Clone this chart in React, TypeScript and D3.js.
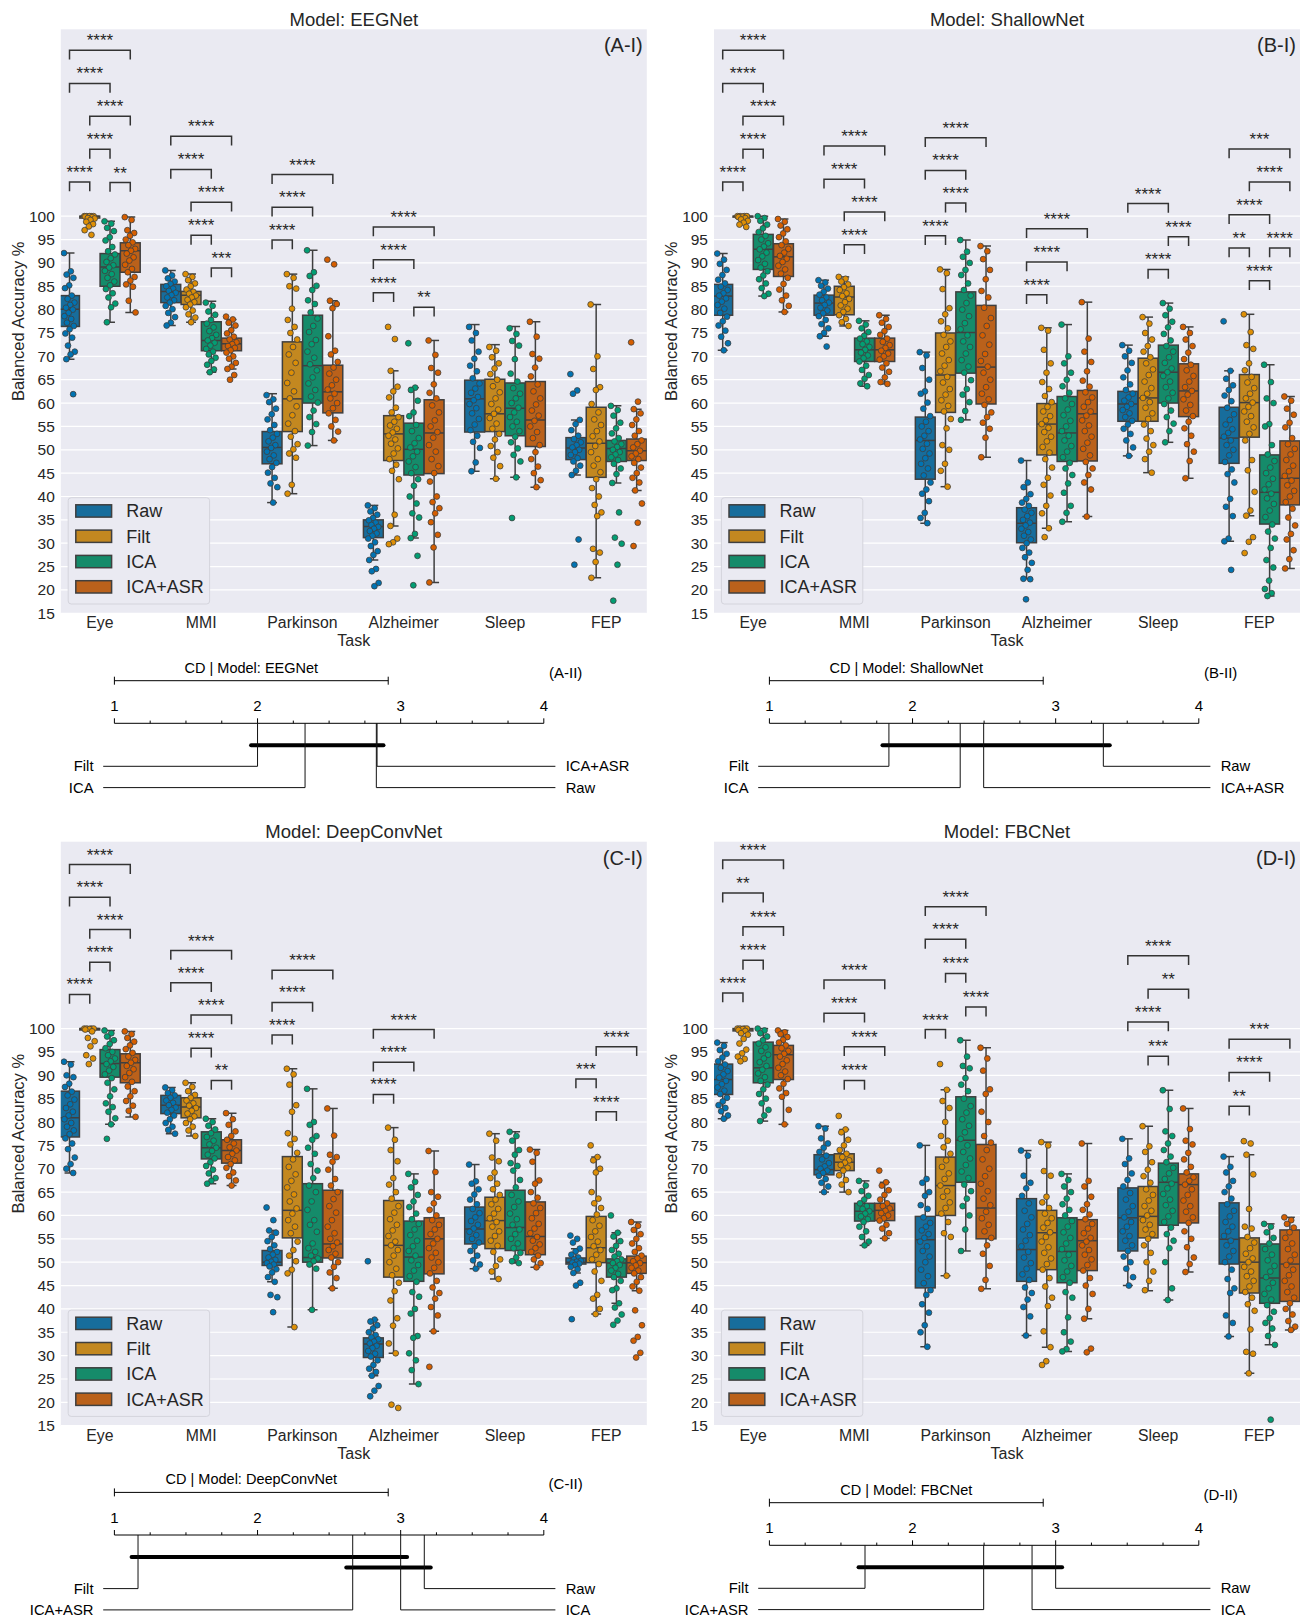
import React from 'react';
import * as d3 from 'd3';

const tasks = ['Eye', 'MMI', 'Parkinson', 'Alzheimer', 'Sleep', 'FEP'];
const pipelines = ['Raw', 'Filt', 'ICA', 'ICA+ASR'];
const palette = ['#0173B2', '#DE8F05', '#029E73', '#D55E00'];
const yTickValues = d3.range(15, 101, 5);

// [whisker low, q1, median, q3, whisker high] per task, per pipeline
const eegnetStats = [
  [[69.4, 76.4, 80.1, 83.0, 92.1], [99.4, 99.6, 100, 100, 100], [77.3, 85.0, 89.1, 92.0, 98.9], [79.4, 88.0, 92.6, 94.3, 99.8]],
  [[76.6, 81.5, 83.9, 85.4, 88.4], [77.3, 81.1, 83.1, 83.9, 87.6], [66.6, 71.2, 73.4, 77.4, 81.8], [67.3, 71.2, 72.7, 73.9, 77.9]],
  [[38.7, 47.0, 50.5, 53.9, 62.0], [40.6, 53.9, 60.9, 73.1, 87.6], [50.9, 60.0, 68.0, 78.8, 92.7], [52.0, 57.9, 62.4, 68.1, 81.9]],
  [[26.4, 31.2, 33.6, 35.0, 38.1], [33.7, 47.7, 53.4, 57.3, 66.9], [31.1, 44.6, 50.1, 55.7, 63.3], [21.6, 44.9, 53.6, 60.7, 73.4]],
  [[45.4, 53.8, 60.9, 64.9, 76.8], [43.8, 53.9, 57.7, 65.1, 72.5], [44.1, 53.0, 58.9, 64.3, 76.4], [42.0, 50.7, 56.4, 64.6, 77.4]],
  [[44.6, 47.9, 50.4, 52.6, 56.4], [22.6, 44.1, 51.4, 59.1, 81.1], [42.9, 47.5, 50.3, 52.0, 59.4], [41.3, 47.7, 49.8, 52.3, 58.7]],
];
const eegnetPoints = [
  [
    [92.1, 88.2, 87.5, 86.8, 85.2, 84.6, 83.0, 82.3, 81.5, 81.0, 80.4, 80.0, 79.3, 78.6, 78.0, 77.2, 76.5, 75.8, 74.9, 74.0, 72.3, 71.0, 70.4, 69.4, 61.9],
    [100, 100, 100, 100, 100, 99.9, 99.8, 99.6, 99.5, 99.2, 98.8, 98.3, 97.8, 97.0, 96.0],
    [98.9, 98.4, 97.5, 96.8, 95.5, 94.8, 93.4, 92.5, 91.8, 91.0, 90.2, 89.5, 89.0, 88.3, 87.6, 86.8, 86.0, 85.2, 84.4, 83.5, 82.6, 81.3, 80.5, 77.3],
    [99.8, 99.2, 97.0, 96.4, 95.8, 95.0, 94.4, 93.8, 93.0, 92.6, 92.0, 91.2, 90.5, 89.6, 88.7, 88.0, 87.0, 86.2, 85.4, 84.9, 81.9, 79.4],
  ],
  [
    [88.4, 87.3, 86.7, 86.0, 85.5, 85.0, 84.5, 84.0, 83.6, 83.1, 82.6, 82.0, 81.5, 80.8, 80.1, 79.3, 78.4, 77.2, 76.6],
    [87.6, 87.0, 86.3, 85.6, 85.0, 84.3, 83.8, 83.4, 83.0, 82.6, 82.1, 81.6, 81.1, 80.5, 79.8, 79.0, 78.3, 77.3],
    [81.5, 80.8, 79.6, 78.9, 77.8, 77.0, 76.2, 75.4, 74.6, 73.9, 73.4, 72.9, 72.3, 71.6, 71.0, 70.4, 69.7, 69.0, 68.2, 67.2, 66.6],
    [78.5, 77.9, 77.2, 76.6, 75.6, 74.9, 74.2, 73.6, 73.0, 72.6, 72.2, 71.8, 71.3, 70.8, 70.0, 69.5, 68.6, 67.8, 67.3, 66.0, 65.0],
  ],
  [
    [61.7, 60.8, 60.2, 58.8, 57.6, 56.5, 55.3, 54.2, 53.4, 52.6, 51.8, 51.0, 50.4, 49.6, 48.8, 48.0, 47.2, 46.3, 45.1, 44.0, 42.8, 42.0, 38.7],
    [87.6, 86.8, 85.0, 84.5, 80.2, 77.8, 76.3, 75.0, 73.6, 72.0, 70.4, 68.6, 66.5, 64.3, 62.5, 61.0, 59.3, 57.4, 55.6, 54.0, 52.8, 51.2, 50.1, 49.2, 48.3, 42.5, 40.6],
    [92.7, 88.0, 87.2, 85.1, 84.2, 82.0, 81.2, 79.4, 78.1, 76.5, 75.2, 73.5, 72.6, 71.0, 69.7, 68.3, 67.0, 65.5, 64.2, 62.8, 61.4, 60.1, 58.4, 57.0, 55.5, 53.8, 50.9],
    [90.7, 89.7, 81.9, 81.2, 80.3, 74.3, 71.2, 70.4, 68.8, 67.6, 66.3, 65.0, 63.8, 62.9, 62.0, 61.0, 60.0, 58.9, 57.8, 56.4, 55.0, 53.9, 52.0],
  ],
  [
    [38.1, 37.5, 36.8, 36.1, 35.4, 34.9, 34.4, 33.9, 33.5, 33.1, 32.6, 32.1, 31.6, 31.0, 30.2, 29.4, 28.3, 27.5, 26.4, 24.5, 24.0, 21.5, 20.8],
    [76.3, 73.7, 66.9, 63.5, 62.5, 61.2, 59.0, 58.0, 57.0, 56.0, 55.2, 54.5, 53.7, 53.0, 52.2, 51.3, 50.3, 49.2, 48.0, 46.8, 45.5, 43.7, 36.1, 33.7, 31.0, 30.2, 29.8],
    [72.8, 63.3, 62.8, 60.5, 58.0, 57.2, 55.3, 54.0, 52.5, 51.4, 50.5, 49.6, 48.6, 47.5, 46.3, 45.0, 43.7, 42.3, 40.0, 38.5, 36.4, 35.5, 32.0, 31.1, 27.3, 21.0],
    [73.4, 70.3, 67.5, 66.5, 64.0, 62.2, 61.0, 59.5, 58.0, 56.3, 55.0, 53.8, 52.6, 51.0, 49.6, 48.0, 46.5, 45.0, 43.2, 40.0, 38.8, 37.5, 36.4, 34.5, 31.8, 29.1, 21.6],
  ],
  [
    [76.3, 75.0, 73.4, 71.0, 69.5, 68.0, 66.8, 65.3, 64.2, 63.1, 62.2, 61.3, 60.6, 59.8, 58.9, 57.8, 56.6, 55.4, 54.2, 53.0, 51.7, 50.4, 47.3, 45.4],
    [72.0, 71.2, 69.8, 68.5, 67.4, 66.2, 65.0, 63.6, 62.3, 61.0, 59.8, 58.6, 57.7, 56.8, 55.6, 54.5, 53.4, 52.2, 50.8, 49.5, 48.3, 46.5, 43.8],
    [76.0, 74.8, 73.3, 72.3, 69.4, 66.3, 64.6, 63.2, 62.0, 61.0, 60.0, 59.0, 58.0, 57.0, 56.0, 55.0, 54.0, 52.8, 51.6, 50.3, 48.9, 47.5, 44.1, 35.4],
    [77.4, 74.2, 70.5, 69.5, 67.6, 65.7, 64.0, 62.5, 61.0, 59.7, 58.4, 57.3, 56.2, 55.0, 53.8, 52.5, 51.0, 49.5, 48.0, 46.4, 45.0, 43.5, 42.0],
  ],
  [
    [66.2, 62.7, 62.0, 56.4, 55.5, 54.2, 53.0, 52.3, 51.6, 51.0, 50.5, 50.0, 49.5, 48.9, 48.2, 47.5, 46.6, 45.5, 44.6, 30.8, 25.4],
    [81.1, 70.0, 67.3, 63.4, 62.8, 59.8, 58.0, 56.5, 55.3, 54.0, 52.9, 51.8, 50.8, 49.5, 48.0, 46.6, 45.2, 43.7, 41.8, 40.0, 38.2, 36.6, 35.8, 28.8, 28.0, 26.0, 22.6],
    [59.4, 58.5, 57.3, 55.8, 54.6, 53.5, 52.5, 51.8, 51.2, 50.6, 50.0, 49.5, 49.0, 48.4, 47.8, 47.0, 46.0, 44.8, 42.9, 36.6, 31.2, 29.9, 25.4, 17.7],
    [73.0, 60.3, 58.7, 57.8, 56.5, 55.3, 54.0, 53.0, 52.0, 51.2, 50.5, 49.8, 49.2, 48.6, 48.0, 47.2, 46.2, 45.0, 44.0, 43.0, 41.3, 38.5, 34.4, 29.4],
  ],
];

const shallownetStats = [
  [[71.3, 78.8, 82.9, 85.4, 92.0], [99.6, 99.8, 100, 100, 100], [82.9, 88.6, 92.9, 96.1, 100], [79.5, 87.1, 91.3, 94.1, 99.4]],
  [[74.3, 78.8, 81.4, 83.1, 86.3], [76.5, 78.9, 82.7, 85.0, 87.0], [63.6, 68.9, 71.4, 73.9, 77.6], [64.1, 68.9, 71.4, 73.9, 78.8]],
  [[34.3, 43.7, 52.0, 57.0, 70.9], [42.1, 58.0, 66.0, 75.0, 88.6], [56.4, 66.4, 75.1, 83.8, 94.9], [48.4, 59.8, 67.7, 80.9, 93.6]],
  [[22.4, 30.1, 34.3, 37.6, 47.7], [33.2, 48.9, 55.5, 59.9, 76.1], [34.6, 47.5, 53.6, 61.4, 76.8], [35.7, 47.6, 57.7, 62.7, 81.6]],
  [[48.7, 56.1, 59.8, 62.5, 72.4], [45.1, 56.1, 61.1, 69.6, 78.4], [51.6, 60.0, 66.6, 72.4, 81.4], [43.9, 57.1, 62.6, 68.4, 76.3]],
  [[30.4, 47.1, 52.5, 59.1, 66.9], [35.9, 52.7, 60.1, 66.1, 79.0], [18.7, 34.1, 40.9, 48.9, 68.2], [24.6, 38.2, 43.9, 51.9, 61.4]],
];
const shallownetPoints = [
  [
    [92.0, 90.7, 89.8, 88.5, 87.4, 86.4, 85.6, 84.9, 84.2, 83.5, 83.0, 82.4, 81.7, 81.0, 80.2, 79.3, 78.5, 77.5, 76.6, 75.5, 74.2, 72.8, 71.3],
    [100, 100, 100, 100, 99.9, 99.8, 99.6, 99.3, 99.0, 98.6, 98.2, 97.7],
    [100, 99.6, 99.0, 98.2, 97.4, 96.6, 95.8, 95.0, 94.2, 93.5, 92.9, 92.2, 91.4, 90.6, 89.8, 89.0, 88.2, 87.3, 86.5, 85.6, 84.6, 83.4, 82.9],
    [99.4, 98.8, 98.0, 97.2, 96.3, 95.5, 94.6, 93.8, 93.0, 92.2, 91.5, 90.9, 90.2, 89.4, 88.6, 87.7, 86.8, 85.5, 84.3, 83.0, 82.0, 80.8, 79.5],
  ],
  [
    [86.3, 85.8, 85.1, 84.5, 83.8, 83.2, 82.6, 82.0, 81.5, 81.0, 80.4, 79.8, 79.2, 78.6, 77.8, 76.9, 76.0, 75.0, 74.3, 72.1],
    [87.0, 86.6, 86.0, 85.4, 84.8, 84.2, 83.5, 82.9, 82.3, 81.6, 80.9, 80.2, 79.5, 78.8, 78.0, 77.3, 76.5],
    [77.6, 76.8, 76.0, 75.2, 74.4, 73.8, 73.2, 72.6, 72.0, 71.4, 70.8, 70.2, 69.6, 68.9, 68.0, 67.1, 66.0, 65.2, 64.2, 63.6],
    [78.8, 78.0, 77.2, 76.3, 75.4, 74.6, 73.8, 73.1, 72.4, 71.8, 71.2, 70.6, 70.0, 69.3, 68.5, 67.6, 66.7, 65.5, 64.5, 64.1],
  ],
  [
    [70.9, 70.2, 67.5, 65.0, 62.5, 62.0, 60.1, 58.8, 57.2, 56.0, 55.0, 54.0, 53.0, 52.2, 51.3, 50.2, 49.2, 48.2, 47.0, 46.0, 44.5, 43.0, 41.5, 40.6, 39.0, 36.5, 35.4, 34.3],
    [88.6, 87.8, 84.4, 80.3, 79.0, 77.5, 76.0, 74.6, 73.2, 72.0, 70.6, 69.2, 68.0, 66.8, 65.6, 64.4, 63.0, 61.8, 60.6, 59.4, 58.2, 56.6, 54.6, 51.0, 50.0, 47.0, 45.5, 42.1],
    [94.9, 92.4, 91.3, 90.0, 88.5, 87.4, 85.6, 84.2, 83.0, 81.4, 80.0, 78.6, 77.1, 75.8, 74.5, 73.2, 72.0, 70.6, 69.2, 67.8, 66.5, 64.9, 63.0, 61.8, 60.2, 58.3, 56.4],
    [93.6, 92.5, 90.8, 88.5, 86.5, 84.0, 82.6, 80.4, 78.2, 76.5, 74.5, 72.5, 70.5, 69.0, 67.8, 66.5, 65.0, 63.4, 62.0, 60.8, 59.6, 58.0, 57.0, 55.8, 54.5, 52.6, 48.4],
  ],
  [
    [47.7, 43.0, 42.0, 40.5, 39.5, 38.7, 38.0, 37.2, 36.5, 35.8, 35.0, 34.4, 33.8, 33.1, 32.4, 31.6, 30.8, 30.0, 29.0, 28.0, 27.0, 25.8, 24.3, 22.4, 22.3, 18.0],
    [76.1, 75.5, 71.4, 68.5, 66.5, 64.5, 63.0, 61.5, 60.2, 59.2, 58.2, 57.2, 56.3, 55.5, 54.7, 53.8, 52.8, 51.8, 50.6, 49.4, 48.0, 46.2, 44.0, 42.5, 40.2, 38.0, 36.4, 33.2, 31.3],
    [76.8, 70.0, 68.5, 66.5, 65.0, 63.6, 62.2, 61.0, 59.8, 58.6, 57.4, 56.2, 55.0, 54.0, 53.0, 52.0, 50.8, 49.6, 48.4, 47.2, 46.0, 44.6, 42.8, 40.8, 38.0, 36.5, 34.6],
    [81.6, 73.8, 71.0, 68.8, 66.8, 64.8, 63.5, 62.3, 61.2, 60.2, 59.2, 58.2, 57.3, 56.3, 55.2, 54.0, 52.8, 51.5, 50.2, 48.8, 47.4, 46.0, 44.6, 43.0, 41.5, 35.7],
  ],
  [
    [72.4, 71.2, 70.0, 68.6, 67.0, 65.5, 64.0, 62.8, 62.0, 61.2, 60.5, 59.8, 59.2, 58.5, 57.8, 57.0, 56.2, 55.4, 54.5, 53.4, 52.0, 50.5, 48.7],
    [78.4, 77.0, 75.0, 73.6, 72.2, 71.0, 69.8, 68.5, 67.2, 66.0, 64.6, 63.2, 62.0, 61.1, 60.2, 59.0, 57.8, 56.6, 55.4, 54.0, 52.4, 51.0, 49.6, 48.0, 45.1],
    [81.4, 80.2, 78.8, 77.4, 76.2, 74.8, 73.4, 72.2, 71.0, 69.8, 68.6, 67.4, 66.6, 65.8, 64.6, 63.4, 62.2, 61.0, 59.8, 58.4, 57.0, 55.6, 54.0, 51.6],
    [76.3, 75.0, 73.6, 72.2, 70.8, 69.4, 68.2, 67.0, 65.8, 64.6, 63.4, 62.6, 61.8, 60.8, 59.6, 58.4, 57.2, 56.0, 54.6, 53.0, 51.2, 49.6, 47.6, 43.9],
  ],
  [
    [77.5, 66.9, 65.2, 63.8, 62.8, 61.6, 60.4, 59.0, 57.6, 56.4, 55.4, 54.4, 53.6, 52.8, 52.0, 51.0, 50.0, 48.8, 47.4, 45.8, 44.8, 43.0, 39.5, 37.8, 35.8, 31.0, 30.4, 24.3],
    [79.0, 75.2, 72.4, 71.6, 68.5, 67.0, 65.6, 64.4, 63.2, 62.0, 61.0, 60.1, 59.2, 58.2, 57.2, 56.0, 54.8, 53.4, 52.0, 47.8, 45.6, 41.0, 37.0, 35.9, 31.3, 30.3, 27.9],
    [68.2, 64.5, 61.0, 60.0, 55.5, 55.0, 51.0, 49.0, 47.6, 46.2, 45.0, 43.8, 42.6, 41.5, 40.6, 39.6, 38.4, 37.0, 35.6, 34.0, 32.5, 31.0, 29.0, 26.4, 24.8, 22.0, 20.2, 19.3, 18.7],
    [61.4, 60.5, 58.8, 57.5, 55.8, 54.8, 52.5, 51.2, 50.2, 49.0, 47.8, 46.6, 45.4, 44.4, 43.4, 42.4, 41.2, 40.0, 38.8, 37.4, 35.5, 33.8, 32.0, 30.8, 28.5, 26.6, 24.6],
  ],
];

const deepconvnetStats = [
  [[69.1, 76.8, 80.9, 86.6, 92.9], [99.5, 99.7, 100, 100, 100], [79.5, 89.6, 92.5, 95.5, 99.6], [81.1, 88.4, 92.7, 94.6, 99.4]],
  [[77.5, 81.8, 83.6, 85.7, 87.4], [77.0, 80.9, 83.2, 85.2, 88.4], [66.8, 72.1, 74.5, 77.9, 80.7], [66.4, 71.2, 73.9, 76.2, 81.9]],
  [[45.8, 49.3, 50.0, 52.5, 56.8], [36.1, 55.2, 61.1, 72.6, 91.4], [39.8, 50.0, 51.0, 66.8, 87.1], [44.4, 50.9, 53.9, 65.4, 82.9]],
  [[25.7, 29.6, 32.5, 33.8, 37.7], [30.5, 46.8, 53.6, 63.2, 78.8], [23.9, 45.9, 51.1, 58.8, 68.9], [35.2, 47.5, 55.0, 59.5, 73.8]],
  [[48.6, 53.9, 57.1, 61.8, 70.9], [46.4, 52.9, 58.9, 63.9, 77.5], [49.8, 52.5, 57.4, 65.4, 77.9], [48.9, 51.6, 55.5, 62.9, 74.1]],
  [[47.7, 49.6, 50.0, 50.9, 52.9], [38.9, 49.9, 53.1, 59.8, 72.5], [41.2, 46.8, 49.8, 50.7, 56.3], [43.9, 47.6, 49.9, 51.3, 58.6]],
];
const deepconvnetPoints = [
  [
    [92.9, 92.3, 90.0, 89.6, 88.2, 87.5, 86.5, 85.7, 84.8, 83.8, 83.0, 82.2, 81.4, 80.6, 79.8, 79.0, 78.2, 77.4, 76.5, 75.4, 74.2, 72.4, 71.0, 70.0, 69.1],
    [100, 100, 100, 100, 99.9, 99.8, 99.4, 98.0, 97.3, 96.2, 94.3, 93.6, 92.4],
    [99.6, 99.0, 98.3, 97.5, 96.7, 95.8, 95.0, 94.3, 93.6, 93.0, 92.4, 91.8, 91.0, 90.2, 89.4, 88.4, 87.0, 85.5, 84.0, 83.2, 82.2, 80.8, 79.5, 76.4],
    [99.4, 98.8, 98.0, 97.2, 96.4, 95.6, 94.8, 94.0, 93.3, 92.7, 92.0, 91.3, 90.5, 89.6, 88.6, 87.6, 86.6, 85.5, 84.5, 83.5, 82.4, 81.1],
  ],
  [
    [87.4, 86.8, 86.2, 85.7, 85.2, 84.6, 84.1, 83.6, 83.1, 82.6, 82.0, 81.4, 80.6, 79.8, 79.0, 78.3, 77.5],
    [88.4, 87.5, 86.6, 85.8, 85.2, 84.6, 84.0, 83.5, 83.0, 82.4, 81.8, 81.2, 80.6, 79.8, 79.0, 78.2, 77.0],
    [80.7, 80.0, 79.2, 78.4, 77.6, 76.8, 76.0, 75.2, 74.5, 73.8, 73.0, 72.2, 71.4, 70.6, 69.8, 69.0, 68.0, 67.4, 66.8],
    [81.9, 80.6, 79.4, 78.0, 77.0, 76.2, 75.4, 74.6, 73.9, 73.2, 72.5, 71.8, 71.0, 70.2, 69.2, 68.4, 67.5, 66.4],
  ],
  [
    [61.7, 59.0, 56.8, 56.3, 55.4, 54.5, 53.6, 52.8, 52.2, 51.6, 51.0, 50.5, 50.1, 49.8, 49.5, 49.1, 48.5, 47.8, 46.8, 45.8, 43.0, 42.5, 39.3],
    [91.4, 90.2, 88.0, 83.6, 82.2, 77.6, 76.4, 75.2, 73.4, 72.0, 70.4, 68.8, 67.4, 66.0, 64.5, 63.0, 61.5, 60.4, 59.0, 57.6, 56.2, 54.4, 52.6, 51.4, 50.2, 48.4, 47.6, 36.1],
    [87.1, 80.0, 79.4, 77.0, 76.2, 74.5, 73.2, 71.0, 69.6, 68.0, 66.4, 65.0, 63.0, 61.2, 59.0, 58.0, 56.5, 54.0, 53.0, 52.2, 51.4, 50.8, 50.2, 49.5, 48.6, 39.8],
    [82.9, 77.1, 73.0, 72.5, 71.5, 69.8, 67.8, 66.4, 65.0, 63.5, 62.0, 60.6, 59.0, 57.6, 56.2, 55.0, 54.2, 53.4, 52.6, 51.8, 51.0, 50.0, 49.0, 47.8, 46.6, 44.4],
  ],
  [
    [50.2, 37.7, 37.3, 36.5, 35.8, 35.0, 34.4, 33.9, 33.5, 33.0, 32.6, 32.1, 31.6, 31.0, 30.4, 29.8, 29.0, 28.0, 27.2, 26.5, 25.7, 23.5, 22.5, 21.3],
    [78.8, 76.2, 74.0, 71.6, 68.0, 66.6, 65.0, 63.6, 62.0, 60.6, 59.2, 58.0, 56.8, 55.6, 54.4, 53.6, 52.6, 51.4, 50.0, 48.6, 47.2, 45.6, 43.8, 41.8, 38.0, 36.4, 32.6, 30.5, 19.5, 18.8],
    [68.9, 67.2, 66.0, 64.4, 63.0, 61.8, 60.4, 59.2, 58.2, 57.0, 55.8, 54.6, 53.4, 52.4, 51.4, 50.4, 49.4, 48.2, 47.0, 45.8, 43.6, 42.6, 40.0, 39.0, 34.2, 33.8, 30.5, 29.0, 26.9, 23.9],
    [73.8, 69.3, 65.0, 64.0, 62.6, 61.2, 60.0, 59.0, 58.0, 57.0, 56.0, 55.0, 54.0, 53.0, 52.0, 51.0, 50.0, 48.8, 47.6, 46.0, 44.6, 43.4, 42.2, 40.4, 38.6, 35.2, 27.6],
  ],
  [
    [70.9, 67.3, 66.8, 65.6, 64.5, 63.4, 62.4, 61.4, 60.5, 59.6, 58.8, 58.0, 57.2, 56.5, 55.8, 55.0, 54.2, 53.4, 52.4, 51.4, 50.4, 49.5, 48.6],
    [77.5, 76.0, 72.4, 71.6, 69.2, 68.0, 66.8, 65.6, 64.4, 63.4, 62.4, 61.4, 60.4, 59.4, 58.6, 57.6, 56.6, 55.6, 54.6, 53.5, 52.2, 50.6, 49.2, 48.0, 46.4],
    [77.9, 77.0, 76.0, 74.0, 73.0, 71.2, 70.6, 69.6, 67.6, 66.0, 64.4, 63.0, 61.8, 60.4, 59.2, 58.0, 57.0, 56.0, 55.0, 54.0, 53.0, 52.0, 51.0, 50.2, 49.8],
    [74.1, 73.4, 71.5, 67.5, 66.8, 65.0, 63.8, 62.6, 61.6, 60.5, 59.4, 58.2, 57.2, 56.2, 55.4, 54.6, 53.8, 53.0, 52.2, 51.4, 50.6, 49.8, 48.9],
  ],
  [
    [55.7, 55.0, 54.2, 52.9, 52.3, 51.6, 51.0, 50.6, 50.3, 50.1, 49.9, 49.7, 49.4, 49.0, 48.5, 47.7, 45.6, 45.0, 37.8],
    [75.0, 72.5, 71.8, 70.0, 69.2, 65.0, 63.6, 62.6, 61.6, 60.2, 59.0, 57.8, 56.6, 55.4, 54.4, 53.4, 52.6, 51.6, 50.6, 49.6, 48.0, 46.0, 43.0, 42.2, 40.0, 38.9],
    [60.0, 56.3, 55.5, 54.5, 53.5, 52.6, 51.8, 51.2, 50.6, 50.2, 49.8, 49.4, 48.8, 48.2, 47.5, 46.8, 46.0, 44.4, 44.0, 41.2, 40.3, 38.8, 37.5, 36.6],
    [58.6, 57.8, 56.9, 56.0, 55.0, 54.0, 53.0, 52.2, 51.4, 50.8, 50.2, 49.8, 49.3, 48.8, 48.2, 47.6, 46.8, 45.8, 44.8, 43.9, 39.7, 36.5, 34.0, 33.2, 30.6, 29.6],
  ],
];

const fbcnetStats = [
  [[80.7, 85.9, 89.1, 92.4, 97.0], [99.0, 99.5, 99.9, 100, 100], [80.2, 88.4, 91.6, 97.1, 100], [79.5, 89.1, 94.4, 96.4, 99.6]],
  [[65.0, 68.7, 69.8, 73.0, 79.1], [65.0, 69.6, 71.4, 73.2, 78.4], [53.6, 58.8, 60.9, 62.6, 67.4], [55.1, 58.9, 61.1, 62.6, 67.1]],
  [[31.9, 44.5, 54.8, 59.8, 75.0], [47.1, 60.0, 66.4, 72.5, 86.9], [52.4, 67.1, 76.1, 85.4, 97.5], [44.3, 55.0, 61.6, 75.2, 95.9]],
  [[34.3, 45.9, 52.7, 63.6, 73.9], [31.8, 48.4, 56.3, 61.1, 75.7], [30.9, 45.6, 52.3, 59.5, 68.9], [37.9, 48.2, 54.6, 59.1, 75.4]],
  [[45.0, 52.4, 59.5, 65.9, 76.4], [43.9, 55.2, 59.8, 66.2, 79.1], [41.9, 57.9, 67.1, 71.2, 86.8], [47.9, 58.4, 66.6, 68.9, 82.9]],
  [[34.1, 49.6, 54.9, 62.7, 72.6], [26.2, 43.4, 50.0, 55.2, 73.0], [32.3, 41.2, 46.6, 53.9, 58.2], [35.5, 41.6, 49.6, 56.9, 59.6]],
];
const fbcnetPoints = [
  [
    [97.0, 96.3, 95.4, 94.6, 93.8, 93.0, 92.3, 91.6, 90.9, 90.2, 89.5, 88.8, 88.1, 87.4, 86.7, 86.0, 85.2, 84.4, 83.6, 83.0, 82.3, 81.4, 80.7],
    [100, 100, 100, 100, 99.9, 99.7, 99.5, 99.0, 98.7, 97.8, 96.8, 95.5, 94.7, 94.0, 93.5, 93.0],
    [100, 99.6, 99.0, 98.3, 97.5, 96.8, 96.0, 95.2, 94.4, 93.6, 92.8, 92.0, 91.2, 90.4, 89.6, 88.8, 88.0, 87.0, 86.0, 85.0, 84.0, 82.6, 81.4, 80.2],
    [99.6, 99.2, 98.8, 98.2, 97.6, 97.0, 96.4, 95.8, 95.2, 94.6, 94.0, 93.2, 92.4, 91.6, 90.8, 90.0, 89.2, 88.2, 87.2, 86.2, 85.4, 82.6, 79.5],
  ],
  [
    [79.1, 78.6, 76.5, 75.4, 74.5, 73.6, 72.8, 72.0, 71.2, 70.5, 70.0, 69.6, 69.1, 68.5, 67.8, 67.0, 66.2, 65.0],
    [81.3, 78.4, 77.8, 76.2, 75.0, 74.0, 73.2, 72.5, 71.8, 71.3, 70.8, 70.2, 69.6, 68.6, 67.6, 66.6, 65.0],
    [67.4, 66.4, 65.2, 64.2, 63.4, 62.6, 62.0, 61.4, 60.9, 60.4, 59.8, 59.2, 58.6, 57.6, 56.6, 55.4, 54.4, 53.6],
    [69.6, 67.1, 66.4, 65.4, 64.4, 63.4, 62.6, 62.0, 61.5, 61.0, 60.5, 60.0, 59.4, 58.9, 58.0, 57.2, 56.2, 55.1],
  ],
  [
    [75.0, 67.8, 67.0, 65.0, 64.2, 62.2, 61.4, 59.6, 58.4, 57.6, 56.8, 56.0, 55.2, 54.4, 53.4, 52.4, 51.2, 50.0, 48.4, 47.0, 45.5, 44.0, 43.0, 41.0, 39.2, 36.5, 35.0, 31.9],
    [92.4, 86.9, 84.5, 83.0, 80.0, 77.0, 76.0, 74.6, 73.2, 71.8, 70.4, 69.0, 67.8, 66.4, 65.2, 64.0, 62.8, 61.6, 60.4, 58.6, 56.2, 55.4, 47.1],
    [97.5, 94.0, 92.0, 91.5, 89.4, 88.0, 86.6, 85.0, 83.4, 82.0, 80.6, 79.2, 77.8, 76.4, 75.0, 73.6, 72.2, 70.8, 69.4, 68.0, 66.6, 65.2, 63.6, 62.0, 60.0, 57.0, 52.4],
    [95.9, 93.6, 91.0, 87.0, 86.0, 82.2, 80.0, 77.0, 75.6, 74.0, 72.0, 70.0, 68.4, 66.8, 65.2, 63.6, 62.2, 60.8, 59.4, 58.0, 56.6, 55.2, 53.6, 51.8, 49.2, 46.2, 44.3],
  ],
  [
    [73.9, 72.8, 68.5, 67.0, 65.8, 64.2, 62.6, 61.0, 59.6, 58.2, 57.0, 55.8, 54.6, 53.4, 52.2, 51.0, 49.8, 48.6, 47.4, 46.2, 44.6, 43.4, 42.0, 40.4, 38.4, 34.3],
    [75.7, 75.0, 69.5, 68.5, 64.0, 62.8, 61.6, 60.4, 59.4, 58.4, 57.4, 56.4, 55.4, 54.4, 53.2, 52.0, 50.8, 49.6, 48.4, 46.6, 44.8, 42.4, 40.6, 35.2, 31.8, 28.8, 28.0],
    [68.9, 67.6, 66.2, 65.0, 63.6, 62.4, 61.2, 60.0, 58.8, 57.6, 56.4, 55.2, 54.0, 52.8, 51.6, 50.4, 49.2, 48.0, 46.8, 45.6, 43.6, 42.4, 38.2, 35.0, 33.0, 31.4, 30.9],
    [75.4, 67.4, 66.2, 64.0, 62.4, 61.2, 60.2, 59.2, 58.2, 57.2, 56.2, 55.2, 54.4, 53.6, 52.6, 51.6, 50.6, 49.4, 48.2, 46.6, 45.0, 43.2, 40.0, 37.9, 31.5, 30.7],
  ],
  [
    [76.4, 72.2, 71.0, 69.0, 67.6, 66.2, 64.8, 63.4, 62.0, 60.8, 59.6, 58.6, 57.6, 56.6, 55.6, 54.6, 53.6, 52.4, 51.2, 50.0, 48.6, 46.8, 45.0],
    [79.1, 74.8, 73.6, 71.4, 69.8, 68.4, 67.0, 65.6, 64.4, 63.2, 62.0, 61.0, 60.0, 59.0, 58.0, 57.0, 56.0, 55.0, 53.6, 52.0, 50.0, 48.0, 46.0, 44.0],
    [86.8, 82.8, 78.0, 77.0, 75.4, 74.0, 72.6, 71.4, 70.2, 69.0, 67.8, 66.8, 65.8, 64.6, 63.4, 62.2, 61.0, 59.8, 58.6, 57.4, 56.0, 54.6, 53.0, 50.0, 44.4, 41.9],
    [82.9, 78.5, 76.0, 75.2, 73.4, 72.0, 70.4, 69.2, 68.2, 67.4, 66.6, 65.6, 64.4, 63.2, 62.0, 60.8, 59.6, 58.4, 56.6, 55.0, 53.2, 51.0, 49.6, 47.9],
  ],
  [
    [72.6, 70.4, 69.2, 67.4, 66.2, 65.0, 63.6, 62.4, 61.0, 59.8, 58.6, 57.6, 56.6, 55.6, 54.6, 53.6, 52.4, 51.2, 50.0, 48.4, 46.4, 44.4, 43.4, 38.6, 37.0, 34.1],
    [75.9, 75.4, 73.0, 68.8, 61.4, 57.6, 57.2, 55.4, 54.2, 53.0, 51.8, 50.8, 50.0, 49.0, 48.0, 47.0, 46.0, 44.8, 43.6, 42.4, 41.0, 39.6, 35.6, 30.8, 30.4, 26.2],
    [58.2, 57.6, 56.4, 55.2, 54.0, 52.8, 51.6, 50.4, 49.2, 48.0, 46.8, 45.6, 44.4, 43.2, 42.0, 40.8, 39.4, 38.0, 37.0, 35.8, 34.2, 32.3, 16.3],
    [59.6, 59.0, 58.2, 57.4, 56.4, 55.2, 54.0, 52.8, 51.6, 50.4, 49.4, 48.4, 47.2, 46.0, 44.8, 43.6, 42.4, 41.2, 40.0, 38.8, 37.4, 36.2, 35.5],
  ],
];

// significance brackets: [task, pipeline a, pipeline b, label, accuracy level]
const eegnetBrackets = [
  [0, 0, 1, '****', 107.3], [0, 2, 3, '**', 107.2], [0, 1, 2, '****', 114.3], [0, 1, 3, '****', 121.4], [0, 0, 2, '****', 128.4], [0, 0, 3, '****', 135.5],
  [1, 1, 2, '****', 95.9], [1, 2, 3, '***', 88.9], [1, 1, 3, '****', 103.0], [1, 0, 2, '****', 110.0], [1, 0, 3, '****', 117.1],
  [2, 0, 1, '****', 94.9], [2, 0, 2, '****', 101.9], [2, 0, 3, '****', 108.9],
  [3, 0, 1, '****', 83.6], [3, 2, 3, '**', 80.5], [3, 0, 2, '****', 90.7], [3, 0, 3, '****', 97.7],
];
const shallownetBrackets = [
  [0, 0, 1, '****', 107.3], [0, 1, 2, '****', 114.3], [0, 1, 3, '****', 121.4], [0, 0, 2, '****', 128.4], [0, 0, 3, '****', 135.5],
  [1, 1, 2, '****', 93.9], [1, 1, 3, '****', 100.9], [1, 0, 2, '****', 107.9], [1, 0, 3, '****', 115.0],
  [2, 0, 1, '****', 95.8], [2, 1, 2, '****', 102.8], [2, 0, 2, '****', 109.8], [2, 0, 3, '****', 116.8],
  [3, 0, 1, '****', 83.2], [3, 0, 2, '****', 90.2], [3, 0, 3, '****', 97.3],
  [4, 1, 2, '****', 88.6], [4, 2, 3, '****', 95.6], [4, 0, 2, '****', 102.7],
  [5, 0, 1, '**', 93.2], [5, 2, 3, '****', 93.2], [5, 1, 2, '****', 86.2], [5, 0, 2, '****', 100.3], [5, 1, 3, '****', 107.3], [5, 0, 3, '***', 114.4],
];
const deepconvnetBrackets = [
  [0, 0, 1, '****', 107.3], [0, 1, 2, '****', 114.2], [0, 1, 3, '****', 121.2], [0, 0, 2, '****', 128.1], [0, 0, 3, '****', 135.1],
  [1, 1, 2, '****', 95.8], [1, 2, 3, '**', 88.9], [1, 1, 3, '****', 102.9], [1, 0, 2, '****', 109.8], [1, 0, 3, '****', 116.7],
  [2, 0, 1, '****', 98.6], [2, 0, 2, '****', 105.6], [2, 0, 3, '****', 112.5],
  [3, 0, 1, '****', 85.9], [3, 0, 2, '****', 92.8], [3, 0, 3, '****', 99.8],
  [5, 0, 1, '***', 89.2], [5, 1, 2, '****', 82.2], [5, 1, 3, '****', 96.1],
];
const fbcnetBrackets = [
  [0, 0, 1, '****', 107.6], [0, 1, 2, '****', 114.6], [0, 1, 3, '****', 121.8], [0, 0, 2, '**', 129.0], [0, 0, 3, '****', 136.1],
  [1, 1, 2, '****', 88.9], [1, 1, 3, '****', 96.1], [1, 0, 2, '****', 103.3], [1, 0, 3, '****', 110.4],
  [2, 0, 1, '****', 99.8], [2, 2, 3, '****', 104.6], [2, 1, 2, '****', 111.8], [2, 0, 2, '****', 119.1], [2, 0, 3, '****', 126.1],
  [4, 1, 2, '***', 94.1], [4, 0, 2, '****', 101.4], [4, 1, 3, '**', 108.4], [4, 0, 3, '****', 115.6],
  [5, 0, 1, '**', 83.4], [5, 0, 2, '****', 90.6], [5, 0, 3, '***', 97.7],
];

// average ranks (Raw, Filt, ICA, ICA+ASR) and cliques for the CD diagrams
const criticalDifference = 1.913;
const eegnetRanks = [2.83, 2.0, 2.332, 2.835];
const eegnetCliques = [['Filt', 'ICA+ASR']];
const shallownetRanks = [3.333, 1.835, 2.333, 2.497];
const shallownetCliques = [['Filt', 'Raw']];
const deepconvnetRanks = [3.165, 1.165, 3.0, 2.665];
const deepconvnetCliques = [['Filt', 'ICA'], ['ICA+ASR', 'Raw']];
const fbcnetRanks = [3.0, 1.668, 2.835, 2.497];
const fbcnetCliques = [['Filt', 'Raw']];

const FONT = '"Liberation Sans", Arial, sans-serif';
const GRAY = '#3f3f3f';
const TXT = '#262626';

const boxColor = (c: string) => {
  const h = d3.hsl(c);
  h.s *= 0.75;
  return h.formatHex();
};

const jitter = (i: number) => (((i * 0.6180339) % 1) - 0.5) * 11;

function BoxPanel({ model, tag, col, row, stats, points, brackets }: any) {
  const left = col === 0 ? 60.8 : 714;
  const right = left + 586;
  const top = row === 0 ? 29.3 : 841.7;
  const bottom = top + 584;
  const x = d3.scaleLinear().domain([-0.386, 5.4]).range([left, right]);
  const y = d3.scaleLinear().domain([15, 140]).range([bottom, top]);
  const bw = x(0.196) - x(0);
  const pos = (t: number, h: number) => x(t + (h - 1.5) * 0.2);
  const clip = `clip-${tag}`;
  const legLeft = left + 7.4;
  const legTop = bottom - 9.3 - 106.3;

  return (
    <g fontFamily={FONT}>
      <defs>
        <clipPath id={clip}>
          <rect x={left} y={top} width={right - left} height={bottom - top} />
        </clipPath>
      </defs>
      <rect x={left} y={top} width={right - left} height={bottom - top} fill="#EAEAF2" />
      {yTickValues.map((v) => (
        <line key={v} x1={left} x2={right} y1={y(v)} y2={y(v)} stroke="#fff" strokeWidth={1.2} />
      ))}
      <g clipPath={`url(#${clip})`}>
        {stats.map((taskStats: number[][], t: number) =>
          taskStats.map((s: number[], h: number) => {
            const cx = pos(t, h);
            const [lo, q1, med, q3, hi] = s;
            return (
              <g key={`b${t}-${h}`} stroke={GRAY} strokeWidth={1.5}>
                <line x1={cx} x2={cx} y1={y(q3)} y2={y(hi)} />
                <line x1={cx} x2={cx} y1={y(q1)} y2={y(lo)} />
                <line x1={cx - bw / 4} x2={cx + bw / 4} y1={y(hi)} y2={y(hi)} />
                <line x1={cx - bw / 4} x2={cx + bw / 4} y1={y(lo)} y2={y(lo)} />
                <rect x={cx - bw / 2} y={y(q3)} width={bw} height={Math.max(y(q1) - y(q3), 0.5)} fill={boxColor(palette[h])} />
                <line x1={cx - bw / 2} x2={cx + bw / 2} y1={y(med)} y2={y(med)} />
              </g>
            );
          })
        )}
        {points.map((taskPts: number[][], t: number) =>
          taskPts.map((vals: number[], h: number) =>
            vals.map((v: number, i: number) => (
              <circle
                key={`p${t}-${h}-${i}`}
                cx={pos(t, h) + jitter(i)}
                cy={y(v)}
                r={2.9}
                fill={palette[h]}
                stroke={GRAY}
                strokeWidth={0.8}
              />
            ))
          )
        )}
      </g>
      {brackets.map((b: any, i: number) => {
        const [t, a, c, label, level] = b;
        const x1 = pos(t, a);
        const x2 = pos(t, c);
        const yy = y(level);
        return (
          <g key={`s${i}`}>
            <path d={`M${x1},${yy + 9.3}V${yy}H${x2}V${yy + 9.3}`} fill="none" stroke="#333" strokeWidth={1.5} />
            <text x={(x1 + x2) / 2} y={yy - 4} textAnchor="middle" fontSize={17} fill={TXT}>
              {label}
            </text>
          </g>
        );
      })}
      {yTickValues.map((v) => (
        <text key={`yt${v}`} x={left - 6} y={y(v) + 5.5} textAnchor="end" fontSize={15.5} fill={TXT}>
          {v}
        </text>
      ))}
      {tasks.map((name, t) => (
        <text key={name} x={x(t)} y={bottom + 15} textAnchor="middle" fontSize={15.8} fill={TXT}>
          {name}
        </text>
      ))}
      <text x={(left + right) / 2} y={bottom + 33} textAnchor="middle" fontSize={16} fill={TXT}>
        Task
      </text>
      <text
        transform={`translate(${left - 37},${(top + bottom) / 2}) rotate(-90)`}
        textAnchor="middle"
        fontSize={16.5}
        fill={TXT}
      >
        Balanced Accuracy %
      </text>
      <text x={(left + right) / 2} y={top - 3.3} textAnchor="middle" fontSize={18.5} fill={TXT}>
        Model: {model}
      </text>
      <text x={right - 4} y={top + 23} textAnchor="end" fontSize={20} fill={TXT}>
        ({tag}-I)
      </text>
      <rect x={legLeft} y={legTop} width={141.4} height={106.3} rx={3} fill="#EAEAF2" stroke="#d4d4dc" strokeWidth={1} />
      {pipelines.map((p, h) => {
        const cy = legTop + 13.3 + h * 25.3;
        return (
          <g key={`lg${p}`}>
            <rect x={legLeft + 7.6} y={cy - 6.2} width={35.8} height={12.3} fill={boxColor(palette[h])} stroke={GRAY} strokeWidth={1.5} />
            <text x={legLeft + 58.1} y={cy + 6.3} fontSize={18} fill={TXT}>
              {p}
            </text>
          </g>
        );
      })}
    </g>
  );
}

function CDPanel({ model, tag, col, titleY, ranks, cliques }: any) {
  const off = col === 0 ? 0 : 655;
  const r = d3.scaleLinear().domain([1, 4]).range([114.4 + off, 543.8 + off]);
  const barY = titleY + 13.4;
  const axisY = titleY + 56;
  const rankOf = (name: string) => ranks[pipelines.indexOf(name)];
  const order = pipelines.map((p, i) => ({ name: p, rank: ranks[i] })).sort((a, b) => a.rank - b.rank);
  const leftSide = order.slice(0, 2);
  const rightSide = order.slice(2).reverse();
  const rowY0 = axisY + 43 + (cliques.length - 1) * 10.6;
  const ticks = d3.range(1, 4.001, 0.25);

  return (
    <g fontFamily={FONT} fill="#000">
      <text x={(r(1) + r(1 + criticalDifference)) / 2} y={titleY + 5.2} textAnchor="middle" fontSize={14.5}>
        CD | Model: {model}
      </text>
      <text x={565.7 + off} y={titleY + 10.2} textAnchor="middle" fontSize={15}>
        ({tag}-II)
      </text>
      <g stroke="#000" strokeWidth={1}>
        <line x1={r(1)} x2={r(1 + criticalDifference)} y1={barY} y2={barY} />
        <line x1={r(1)} x2={r(1)} y1={barY - 4} y2={barY + 4} />
        <line x1={r(1 + criticalDifference)} x2={r(1 + criticalDifference)} y1={barY - 4} y2={barY + 4} />
        <line x1={r(1)} x2={r(4)} y1={axisY} y2={axisY} />
        {ticks.map((v) => (
          <line key={v} x1={r(v)} x2={r(v)} y1={axisY} y2={axisY - (Number.isInteger(v) ? 5 : 2.7)} />
        ))}
      </g>
      {[1, 2, 3, 4].map((v) => (
        <text key={v} x={r(v)} y={axisY - 12.3} textAnchor="middle" fontSize={15}>
          {v}
        </text>
      ))}
      {cliques.map((c: string[], i: number) => {
        const yy = axisY + 22 + i * 10.6;
        return (
          <line
            key={`c${i}`}
            x1={r(rankOf(c[0]) - 0.045)}
            x2={r(rankOf(c[1]) + 0.045)}
            y1={yy}
            y2={yy}
            stroke="#000"
            strokeWidth={4}
            strokeLinecap="round"
          />
        );
      })}
      {leftSide.map((d, j) => {
        const yy = rowY0 + j * 21.3;
        return (
          <g key={`l${d.name}`}>
            <path d={`M${r(d.rank)},${axisY}V${yy}H${103.2 + off}`} fill="none" stroke="#111" strokeWidth={1} />
            <text x={93.5 + off} y={yy + 5} textAnchor="end" fontSize={14.8}>
              {d.name}
            </text>
          </g>
        );
      })}
      {rightSide.map((d, j) => {
        const yy = rowY0 + j * 21.3;
        return (
          <g key={`r${d.name}`}>
            <path d={`M${r(d.rank)},${axisY}V${yy}H${555.4 + off}`} fill="none" stroke="#111" strokeWidth={1} />
            <text x={565.7 + off} y={yy + 5} fontSize={14.8}>
              {d.name}
            </text>
          </g>
        );
      })}
    </g>
  );
}

export default function App() {
  return (
    <div style={{ position: 'absolute', left: 0, top: 0 }}>
      <svg width={1307} height={1619} style={{ display: 'block', background: '#fff' }}>
        <BoxPanel model="EEGNet" tag="A" col={0} row={0} stats={eegnetStats} points={eegnetPoints} brackets={eegnetBrackets} />
        <BoxPanel model="ShallowNet" tag="B" col={1} row={0} stats={shallownetStats} points={shallownetPoints} brackets={shallownetBrackets} />
        <BoxPanel model="DeepConvNet" tag="C" col={0} row={1} stats={deepconvnetStats} points={deepconvnetPoints} brackets={deepconvnetBrackets} />
        <BoxPanel model="FBCNet" tag="D" col={1} row={1} stats={fbcnetStats} points={fbcnetPoints} brackets={fbcnetBrackets} />
        <CDPanel model="EEGNet" tag="A" col={0} titleY={667.3} ranks={eegnetRanks} cliques={eegnetCliques} />
        <CDPanel model="ShallowNet" tag="B" col={1} titleY={667.3} ranks={shallownetRanks} cliques={shallownetCliques} />
        <CDPanel model="DeepConvNet" tag="C" col={0} titleY={1479} ranks={deepconvnetRanks} cliques={deepconvnetCliques} />
        <CDPanel model="FBCNet" tag="D" col={1} titleY={1489.3} ranks={fbcnetRanks} cliques={fbcnetCliques} />
      </svg>
    </div>
  );
}
